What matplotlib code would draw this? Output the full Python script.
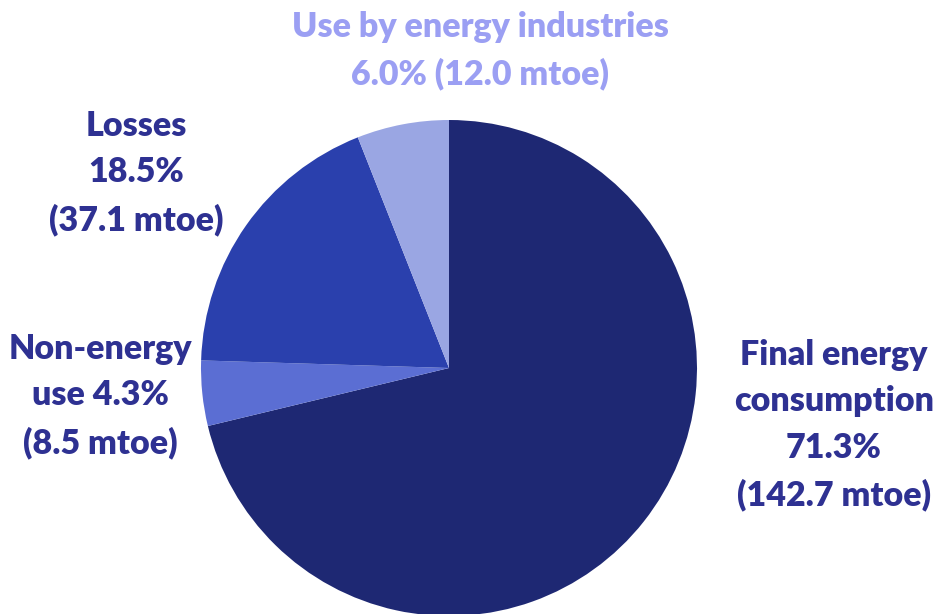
import matplotlib
matplotlib.use("Agg")
import matplotlib.pyplot as plt

# data (mtoe)
categories = ["Final energy consumption", "Non-energy use", "Losses", "Use by energy industries"]
values = [142.7, 8.5, 37.1, 12.0]
percents = [71.3, 4.3, 18.5, 6.0]
colors = ["#1E2873", "#5B6ED3", "#2A40AD", "#9AA6E3"]

W, H = 939, 614
fig = plt.figure(figsize=(W / 100, H / 100), dpi=100)
ax = fig.add_axes([0, 0, 1, 1])

ax.pie(values, colors=colors, startangle=90, counterclock=False,
       center=(449, H - 368), radius=248, frame=True,
       wedgeprops=dict(linewidth=0))
ax.set_xlim(0, W)
ax.set_ylim(0, H)
ax.set_aspect("equal")
ax.axis("off")

dark = "#2E3192"
light = "#9B9FF3"
font = dict(family=["Lato", "DejaVu Sans"], fontweight="heavy", fontsize=24.5,
            ha="center", va="center", linespacing=1.55)

labels = [
    ("Final energy\nconsumption\n%.1f%%\n(%.1f mtoe)" % (percents[0], values[0]), 834, 425, dark),
    ("Non-energy\nuse %.1f%%\n(%.1f mtoe)" % (percents[1], values[1]), 100, 396, dark),
    ("Losses\n%.1f%%\n(%.1f mtoe)" % (percents[2], values[2]), 136, 173, dark),
    ("Use by energy industries\n%.1f%% (%.1f mtoe)" % (percents[3], values[3]), 480, 51, light),
]
for txt, x, y, c in labels:
    ax.text(x, H - y, txt, color=c, **font)

fig.savefig("out.png", dpi=100)
